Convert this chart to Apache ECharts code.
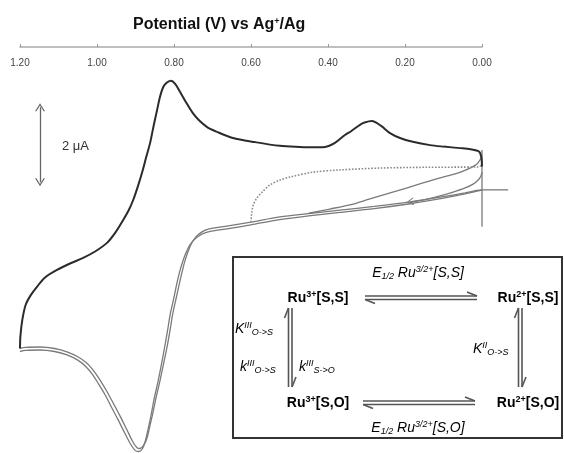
<!DOCTYPE html>
<html>
<head>
<meta charset="utf-8">
<script src="https://cdn.jsdelivr.net/npm/echarts@6/dist/echarts.min.js"></script>
<style>html,body{margin:0;padding:0;background:#fff}#c{width:564px;height:453px}</style>
</head>
<body>
<div id="c"></div>
<script>
// ---- data (potential V vs Ag+/Ag, current µA, arbitrary zero) ----
const xTicks = [0, 0.2, 0.4, 0.6, 0.8, 1.0, 1.2];
const firstForward = [
[0.000,0.62],[0.002,0.88],[0.008,1.02],[0.030,1.08],[0.057,1.11],[0.100,1.15],[0.135,1.19],[0.180,1.28],[0.213,1.38],[0.239,1.51],[0.262,1.70],[0.286,1.83],[0.305,1.79],[0.317,1.73],[0.340,1.56],[0.356,1.46],[0.382,1.25],[0.408,1.14],[0.440,1.13],[0.473,1.14],[0.525,1.17],[0.590,1.27],[0.647,1.38],[0.690,1.55],[0.714,1.67],[0.735,1.85],[0.751,2.04],[0.770,2.35],[0.784,2.60],[0.797,2.82],[0.808,2.90],[0.820,2.84],[0.829,2.71],[0.837,2.45],[0.844,2.12],[0.853,1.70],[0.862,1.25],[0.872,0.88],[0.881,0.53],[0.893,0.12],[0.906,-0.27],[0.918,-0.55],[0.932,-0.80],[0.952,-1.13],[0.974,-1.41],[1.005,-1.64],[1.036,-1.81],[1.070,-1.96],[1.104,-2.13],[1.135,-2.33],[1.156,-2.58],[1.172,-2.80],[1.185,-3.05],[1.194,-3.46],[1.199,-3.90],[1.200,-4.22]
];
const returnScan1 = [
[1.200,-4.22],[1.185,-4.19],[1.148,-4.18],[1.110,-4.22],[1.078,-4.31],[1.050,-4.44],[1.026,-4.61],[1.008,-4.82],[0.992,-5.06],[0.975,-5.35],[0.958,-5.67],[0.940,-6.02],[0.922,-6.39],[0.908,-6.68],[0.896,-6.86],[0.888,-6.88],[0.879,-6.80],[0.870,-6.60],[0.862,-6.25],[0.855,-5.94],[0.846,-5.50],[0.836,-5.06],[0.827,-4.62],[0.818,-4.18],[0.810,-3.72],[0.803,-3.28],[0.793,-2.82],[0.784,-2.40],[0.777,-2.10],[0.771,-1.87],[0.762,-1.60],[0.751,-1.36],[0.738,-1.20],[0.720,-1.08],[0.699,-1.02],[0.647,-0.94],[0.600,-0.86],[0.525,-0.72],[0.450,-0.63],[0.369,-0.54],[0.280,-0.44],[0.187,-0.32],[0.100,-0.18],[0.044,-0.08],[0.010,-0.01],[0.000,0.00]
];
const returnScan2 = [
[1.200,-4.30],[1.185,-4.27],[1.148,-4.26],[1.110,-4.30],[1.078,-4.39],[1.050,-4.53],[1.028,-4.71],[1.011,-4.92],[0.996,-5.16],[0.979,-5.45],[0.963,-5.77],[0.945,-6.12],[0.927,-6.49],[0.913,-6.76],[0.901,-6.93],[0.892,-6.96],[0.883,-6.90],[0.875,-6.70],[0.867,-6.35],[0.860,-6.02],[0.852,-5.58],[0.842,-5.12],[0.833,-4.66],[0.825,-4.22],[0.817,-3.76],[0.810,-3.32],[0.800,-2.86],[0.792,-2.46],[0.785,-2.17],[0.779,-1.96],[0.770,-1.70],[0.759,-1.47],[0.745,-1.30],[0.726,-1.17],[0.703,-1.10],[0.650,-1.02],[0.600,-0.93],[0.525,-0.79],[0.450,-0.69],[0.369,-0.60],[0.280,-0.50],[0.187,-0.37],[0.100,-0.22],[0.044,-0.11],[0.010,-0.03],[0.000,0.00]
];
const laterForward = [
[0.000,0.90],[0.013,0.69],[0.049,0.50],[0.090,0.37],[0.135,0.24],[0.180,0.10],[0.221,-0.03],[0.291,-0.24],[0.343,-0.40],[0.395,-0.51],[0.450,-0.62]
];
const branchScan = [
[0.187,-0.34],[0.140,-0.24],[0.109,-0.16],[0.075,-0.06],[0.044,0.05],[0.022,0.16],[0.010,0.26],[0.003,0.36],[0.000,0.47]
];
const dottedScan = [
[0.600,-0.86],[0.598,-0.60],[0.594,-0.40],[0.585,-0.22],[0.570,-0.05],[0.551,0.13],[0.525,0.26],[0.499,0.34],[0.439,0.47],[0.369,0.53],[0.265,0.58],[0.150,0.60],[0.010,0.61],[0.000,0.66]
];
const scanArrow = [[0.187,-0.32]];
const scaleBarV = 1.148;
const scaleBarFrom = 0.2, scaleBarTo = 2.2;   // 2 µA
// crosshair segments: [x1, y1, x2, y2]
const crossSegments = [[0,1.06,0,-0.98],[0,0,-0.068,0]];

const chevron = 'path://M0,10 L5,0 L10,10 L8.6,10 L5,2.8 L1.4,10 Z';
const FONT = 'Liberation Sans, Arial, sans-serif';

const chart = echarts.init(document.getElementById('c'));
const grayLine = {color:'#7a7a7a', width:1.3};

function txt(x, y, text, rich, align) {
  return {type:'text', x:x, y:y, style:{text:text, rich:rich, align:align||'center', verticalAlign:'middle', fontFamily:FONT}};
}
const boldRich = {
  n:{fontSize:14, fontWeight:'bold', color:'#222', lineHeight:16, fontFamily:FONT},
  s:{fontSize:9, fontWeight:'bold', color:'#222', lineHeight:9, verticalAlign:'top', fontFamily:FONT}
};
const itRich = {
  n:{fontSize:14, fontStyle:'italic', color:'#666', lineHeight:16, fontFamily:FONT},
  s:{fontSize:9, fontStyle:'italic', color:'#666', lineHeight:9, verticalAlign:'top', fontFamily:FONT},
  b:{fontSize:9, fontStyle:'italic', color:'#666', lineHeight:9, verticalAlign:'bottom', fontFamily:FONT}
};
function seg(x1,y1,x2,y2){return {type:'line', shape:{x1:x1,y1:y1,x2:x2,y2:y2}, style:{stroke:'#555', lineWidth:1.6}};}

const graphics = [
  {type:'rect', shape:{x:233, y:257, width:329, height:181}, style:{fill:'#fff', stroke:'#333', lineWidth:2}, z:10},
  seg(365,296,477,296), seg(477,296,467,292),
  seg(365,299.5,477,299.5), seg(365,299.5,375,303.5),
  seg(363,401,475,401), seg(475,401,465,397),
  seg(363,404.5,475,404.5), seg(363,404.5,373,408.5),
  seg(288.5,308,288.5,387), seg(288.5,308,284.5,318),
  seg(292,308,292,387), seg(292,387,296,377),
  seg(518.5,308,518.5,387), seg(518.5,308,514.5,318),
  seg(522,308,522,387), seg(522,387,526,377),
  txt(318,298,'{n|Ru}{s|3+}{n|[S,S]}',boldRich),
  txt(528,298,'{n|Ru}{s|2+}{n|[S,S]}',boldRich),
  txt(318,403,'{n|Ru}{s|3+}{n|[S,O]}',boldRich),
  txt(528,403,'{n|Ru}{s|2+}{n|[S,O]}',boldRich),
  txt(418,273,'{n|E}{b|1/2}{n| Ru}{s|3/2+}{n|[S,S]}',itRich),
  txt(418,428,'{n|E}{b|1/2}{n| Ru}{s|3/2+}{n|[S,O]}',itRich),
  txt(235,329,'{n|K}{s|III}{b|O->S}',itRich,'left'),
  txt(240,367,'{n|k}{s|III}{b|O->S}',itRich,'left'),
  txt(299,367,'{n|k}{s|III}{b|S->O}',itRich,'left'),
  txt(473,349,'{n|K}{s|II}{b|O->S}',itRich,'left'),
  {type:'text', x:62, y:146, style:{text:'2 \u03bcA', fontSize:13, fill:'#333', fontFamily:FONT, verticalAlign:'middle'}}
];
graphics.forEach(g=>{ if(g.z===undefined) g.z = 11; });

chart.setOption({
  animation:false,
  backgroundColor:'#fff',
  title:{
    text:'Potential (V) vs Ag{s|+}/Ag', left:128, top:12,
    textStyle:{fontSize:16, fontWeight:'bold', color:'#111', fontFamily:FONT,
      rich:{s:{fontSize:9, fontWeight:'bold', color:'#111', verticalAlign:'top', lineHeight:9, fontFamily:FONT}}}
  },
  grid:{left:20, right:82, top:47, bottom:0, containLabel:false},
  xAxis:{
    type:'value', min:0, max:1.2, interval:0.2, inverse:true, position:'top',
    axisLine:{show:true, onZero:false, lineStyle:{color:'#aaa', width:1.5}},
    axisTick:{show:true, length:3, lineStyle:{color:'#999'}},
    axisLabel:{inside:true, margin:11, fontSize:10, color:'#444', fontFamily:FONT,
      formatter:v=>xTicks.indexOf(+v.toFixed(1))>=0 ? v.toFixed(2) : ''},
    splitLine:{show:false}
  },
  yAxis:{type:'value', min:-7, max:3.8, show:false},
  graphic:graphics,
  series:[
    {type:'line', name:'return1', data:returnScan1, smooth:0.3, symbol:'none', lineStyle:grayLine},
    {type:'line', name:'return2', data:returnScan2, smooth:0.3, symbol:'none', lineStyle:grayLine},
    {type:'line', name:'later', data:laterForward, smooth:0.3, symbol:'none', lineStyle:grayLine},
    {type:'line', name:'branch', data:branchScan, smooth:0.3, symbol:'none', lineStyle:grayLine},
    {type:'line', name:'dotted', data:dottedScan, smooth:0.3, symbol:'none', lineStyle:{color:'#8a8a8a', width:1.6, type:'dotted'}},
    {type:'line', name:'first', data:firstForward, smooth:0.3, symbol:'none', lineStyle:{color:'#2b2b2b', width:2}},
    {type:'custom', name:'crosshair', data:crossSegments, clip:false, silent:true,
      renderItem:function(params, api){
        const p1 = api.coord([api.value(0), api.value(1)]);
        const p2 = api.coord([api.value(2), api.value(3)]);
        return {type:'line', shape:{x1:p1[0], y1:p1[1], x2:p2[0], y2:p2[1]}, style:{stroke:'#7a7a7a', lineWidth:1.3}};
      }},
    {type:'scatter', name:'arrow', data:scanArrow, symbol:chevron, symbolSize:[8,7], symbolRotate:98, itemStyle:{color:'#555'}},
    {type:'line', name:'scale', data:[], symbol:'none',
      markLine:{silent:true, symbol:[chevron, chevron], symbolSize:[10,8], label:{show:false},
        lineStyle:{color:'#666', width:1.3, type:'solid'},
        data:[[{coord:[scaleBarV, scaleBarFrom]},{coord:[scaleBarV, scaleBarTo]}]]}}
  ]
});
</script>
</body>
</html>
